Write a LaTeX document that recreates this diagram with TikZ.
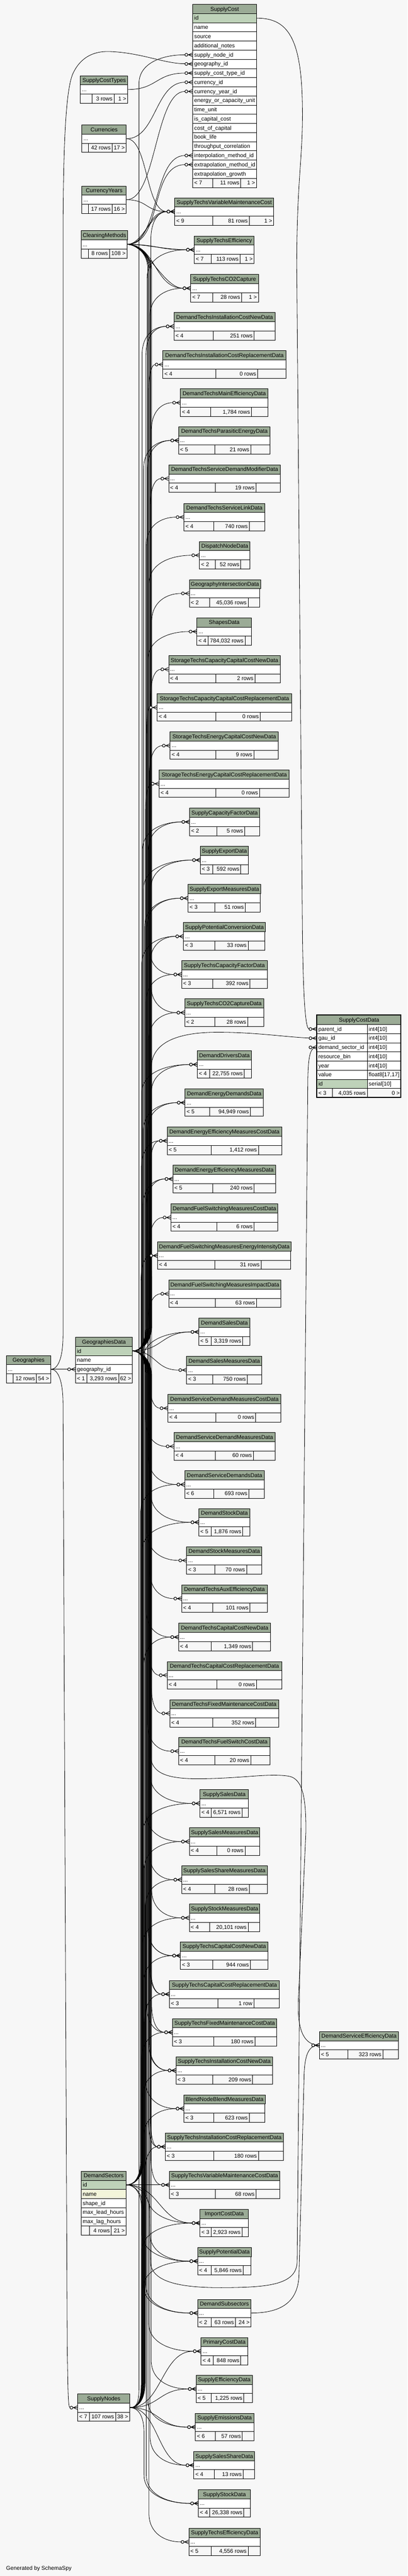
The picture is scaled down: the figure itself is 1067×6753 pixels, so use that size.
\documentclass[tikz,border=0pt]{standalone}
\usepackage{fontspec}
\setmainfont{Liberation Sans}
\usetikzlibrary{calc}
\definecolor{hdrc}{HTML}{9BAB96}
\definecolor{idc}{HTML}{BED2B9}
\definecolor{namec}{HTML}{F3F5DA}
\definecolor{bgc}{HTML}{F7F7F7}
\definecolor{cellbg}{HTML}{F7F7F7}
\newcommand\erfont{\fontsize{14.6}{17}\selectfont}
\tikzset{
 ercell/.style={draw=black,line width=1.3pt,minimum height=24pt,inner xsep=4pt,inner ysep=0pt,
   text height=12pt,text depth=2pt,font=\erfont,anchor=north west},
 fkl/.style={draw=black,line width=1.1pt},
}
\newcommand\erC[6][hdrc]{\pgfmathsetlengthmacro\erMW{#5}%
 \node[ercell,fill=#1,minimum width=\erMW] (#2) at (#3,#4) {#6};}
\newcommand\erL[6][white]{\pgfmathsetlengthmacro\erMW{#5}\pgfmathsetlengthmacro\erTW{#5-8}%
 \node[ercell,fill=#1,minimum width=\erMW,text width=\erTW,align=flush left] (#2) at (#3,#4) {\mbox{#6}};}
\newcommand\erR[6][cellbg]{\pgfmathsetlengthmacro\erMW{#5}\pgfmathsetlengthmacro\erTW{#5-8}%
 \node[ercell,fill=#1,minimum width=\erMW,text width=\erTW,align=flush right] (#2) at (#3,#4) {\mbox{#6}};}
\newcommand\erT[8]{%
 \pgfmathsetmacro\erW{#3-#2}%
 \erC{#1}{#2}{#4}{\erW}{#5}%
 \erL{#1d}{#2}{#4+24}{\erW}{...}%
 \def\erN{#1}\def\erXL{#2}\def\erXR{#3}\def\erY{#4}\def\erCA{#6}\def\erCB{#7}%
 \erF#8}
\newcommand\erF[3]{%
 \pgfmathsetmacro\erWa{\erCA-\erXL}\pgfmathsetmacro\erWb{\erCB-\erCA}\pgfmathsetmacro\erWc{\erXR-\erCB}%
 \erL[cellbg]{\erN fa}{\erXL}{\erY+48}{\erWa}{#1}%
 \erR{\erN fb}{\erCA}{\erY+48}{\erWb}{#2}%
 \erR{\erN fc}{\erCB}{\erY+48}{\erWc}{#3}}
\newcommand\fkend[1]{%
 \draw[fkl] let \p1=(#1) in (\x1-11pt,\y1) -- (\x1,\y1+5pt) (\x1-11pt,\y1) -- (\x1,\y1-5pt) (\x1-11pt,\y1) -- (\p1);
 \filldraw[fkl,line width=1.4pt,fill=white] let \p1=(#1) in (\x1-16pt,\y1) circle[radius=3.8pt];}
\newcommand\fk[3]{%
 \draw[fkl] let \p1=(#2), \p2=(#3), \p3=(#1,0), \n1={ifthenelse(\y2>\y1,1,-1)}, \n2={\x2-\x3-20pt} in
  (\p1) .. controls (\x1+22pt,\y1) and (\x3,{\y1+22pt*(\n1)}) .. (\x3,{\y1+65pt*(\n1)})
  -- (\x3,{\y2-75pt*(\n1)}) .. controls (\x3,{\y2-22pt*(\n1)}) and (\x2-20pt-0.5*\n2,\y2) .. (\x2-20pt,\y2) -- (\p2);
 \fkend{#3}}
\newcommand\fks[3][0.45]{%
 \draw[fkl] let \p1=(#2), \p2=(#3), \n2={max(40,#1*(\x2-\x1))} in
  (\p1) .. controls (\x1+\n2,\y1) and (\x2-20pt-\n2,\y2) .. (\x2-20pt,\y2) -- (\p2);
 \fkend{#3}}
\newcommand\gdk[2]{\pgfmathtruncatemacro\fkB{381+mod(#1*7,17)}\fk{\fkB}{gd1.east}{#2}}
\newcommand\snk[2]{\pgfmathtruncatemacro\fkB{370+mod(#1*3,11)}\fk{\fkB}{snd.east}{#2}}
\newcommand\dsk[2]{\pgfmathtruncatemacro\fkB{368+mod(#1*4,9)}\fk{\fkB}{ds1.east}{#2}}
\newcommand\cmk[2]{\pgfmathtruncatemacro\fkB{385+mod(#1*5,13)}\fk{\fkB}{cmd.east}{#2}}
\begin{document}
\begin{tikzpicture}[x=1pt,y=-1pt]
\fill[bgc] (0,0) rectangle (1067,6753);
\useasboundingbox (0,0) rectangle (1067,6753);
% ---------- SupplyCost
\erC{sc0}{504}{11}{167}{SupplyCost}
\erL[idc]{sc1}{504}{35}{167}{id}
\erL{sc2}{504}{59}{167}{name}
\erL{sc3}{504}{83}{167}{source}
\erL{sc4}{504}{107}{167}{additional\_notes}
\erL{sc5}{504}{131}{167}{supply\_node\_id}
\erL{sc6}{504}{155}{167}{geography\_id}
\erL{sc7}{504}{179}{167}{supply\_cost\_type\_id}
\erL{sc8}{504}{203}{167}{currency\_id}
\erL{sc9}{504}{227}{167}{currency\_year\_id}
\erL{sc10}{504}{251}{167}{energy\_or\_capacity\_unit}
\erL{sc11}{504}{275}{167}{time\_unit}
\erL{sc12}{504}{299}{167}{is\_capital\_cost}
\erL{sc13}{504}{323}{167}{cost\_of\_capital}
\erL{sc14}{504}{347}{167}{book\_life}
\erL{sc15}{504}{371}{167}{throughput\_correlation}
\erL{sc16}{504}{395}{167}{interpolation\_method\_id}
\erL{sc17}{504}{419}{167}{extrapolation\_method\_id}
\erL{sc18}{504}{443}{167}{extrapolation\_growth}
\erL[cellbg]{scfa}{504}{467}{52}{< 7}
\erR{scfb}{556}{467}{74}{11 rows}
\erR{scfc}{630}{467}{41}{1 >}
% ---------- left tables
\erT{sct}{210}{334}{198}{SupplyCostTypes}{240}{298}{{}{3 rows}{1 >}}
\erT{cur}{214}{330}{327}{Currencies}{231}{293}{{}{42 rows}{17 >}}
\erT{cy}{214}{330}{487}{CurrencyYears}{231}{293}{{}{17 rows}{16 >}}
\erT{cm}{212}{332}{604}{CleaningMethods}{231}{286}{{}{8 rows}{108 >}}
\erT{geo}{16}{132}{3553}{Geographies}{34}{95}{{}{12 rows}{54 >}}
\erT{sn}{203}{339}{6275}{SupplyNodes}{233}{302}{{< 7}{107 rows}{38 >}}
% GeographiesData
\erC{gd0}{197}{3505}{149}{GeographiesData}
\erL[idc]{gd1}{197}{3529}{149}{id}
\erL{gd2}{197}{3553}{149}{name}
\erL{gd3}{197}{3577}{149}{geography\_id}
\erL[cellbg]{gdfa}{197}{3601}{30}{< 1}
\erR{gdfb}{227}{3601}{83}{3,293 rows}
\erR{gdfc}{310}{3601}{36}{62 >}
% DemandSectors
\erC{ds0}{212}{5691}{118}{DemandSectors}
\erL[idc]{ds1}{212}{5715}{118}{id}
\erL[namec]{ds2}{212}{5739}{118}{name}
\erL{ds3}{212}{5763}{118}{shape\_id}
\erL{ds4}{212}{5787}{118}{max\_lead\_hours}
\erL{ds5}{212}{5811}{118}{max\_lag\_hours}
\erL[cellbg]{dsfa}{212}{5835}{22}{}
\erR{dsfb}{234}{5835}{57}{4 rows}
\erR{dsfc}{291}{5835}{39}{21 >}
% ---------- SupplyCostData
\erC{scd0}{829}{2661}{221}{SupplyCostData}
\erL{scd1}{829}{2685}{132}{parent\_id}\erL{scd1t}{961}{2685}{89}{int4[10]}
\erL{scd2}{829}{2709}{132}{gau\_id}\erL{scd2t}{961}{2709}{89}{int4[10]}
\erL{scd3}{829}{2733}{132}{demand\_sector\_id}\erL{scd3t}{961}{2733}{89}{int4[10]}
\erL{scd4}{829}{2757}{132}{resource\_bin}\erL{scd4t}{961}{2757}{89}{int4[10]}
\erL{scd5}{829}{2781}{132}{year}\erL{scd5t}{961}{2781}{89}{int4[10]}
\erL{scd6}{829}{2805}{132}{value}\erL{scd6t}{961}{2805}{89}{float8[17,17]}
\erL[idc]{scd7}{829}{2829}{132}{id}\erL{scd7t}{961}{2829}{89}{serial[10]}
\erL[cellbg]{scdfa}{829}{2853}{41}{< 3}
\erR{scdfb}{870}{2853}{91}{4,035 rows}
\erR{scdfc}{961}{2853}{89}{0 >}
\draw[line width=2.6pt] (829,2661) rectangle (1050,2877);
% ---------- right column tables
\erT{t02}{457}{716}{518}{SupplyTechsVariableMaintenanceCost}{556}{652}{{< 9}{81 rows}{1 >}}
\erT{t03}{508}{665}{618}{SupplyTechsEfficiency}{552}{628}{{< 7}{113 rows}{1 >}}
\erT{t04}{499}{676}{719}{SupplyTechsCO2Capture}{556}{632}{{< 7}{28 rows}{1 >}}
\erT{t05}{455}{720}{819}{DemandTechsInstallationCostNewData}{558}{665}{{< 4}{251 rows}{}}
\erT{t06}{426}{748}{919}{DemandTechsInstallationCostReplacementData}{565}{674}{{< 4}{0 rows}{}}
\erT{t07}{472}{701}{1019}{DemandTechsMainEfficiencyData}{551}{658}{{< 4}{1,784 rows}{}}
\erT{t08}{467}{707}{1118}{DemandTechsParasiticEnergyData}{562}{656}{{< 5}{21 rows}{}}
\erT{t09}{441}{734}{1218}{DemandTechsServiceDemandModifierData}{563}{670}{{< 4}{19 rows}{}}
\erT{t10}{481}{693}{1319}{DemandTechsServiceLinkData}{559}{652}{{< 4}{740 rows}{}}
\erT{t11}{522}{654}{1419}{DispatchNodeData}{563}{630}{{< 2}{52 rows}{}}
\erT{t12}{495}{680}{1519}{GeographyIntersectionData}{548}{649}{{< 2}{45,036 rows}{}}
\erT{t13}{515}{658}{1619}{ShapesData}{544}{641}{{< 4}{784,032 rows}{}}
\erT{t14}{441}{733}{1718}{StorageTechsCapacityCapitalCostNewData}{565}{667}{{< 4}{2 rows}{}}
\erT{t15}{411}{763}{1818}{StorageTechsCapacityCapitalCostReplacementData}{565}{681}{{< 4}{0 rows}{}}
\erT{t16}{445}{728}{1918}{StorageTechsEnergyCapitalCostNewData}{565}{664}{{< 4}{9 rows}{}}
\erT{t17}{416}{757}{2018}{StorageTechsEnergyCapitalCostReplacementData}{565}{679}{{< 4}{0 rows}{}}
\erT{t18}{496}{679}{2118}{SupplyCapacityFactorData}{567}{640}{{< 2}{5 rows}{}}
\erT{t19}{524}{649}{2218}{SupplyExportData}{557}{630}{{< 3}{592 rows}{}}
\erT{t20}{492}{681}{2318}{SupplyExportMeasuresData}{562}{642}{{< 3}{51 rows}{}}
\erT{t21}{480}{693}{2418}{SupplyPotentialConversionData}{562}{649}{{< 3}{33 rows}{}}
\erT{t22}{475}{699}{2518}{SupplyTechsCapacityFactorData}{557}{654}{{< 3}{392 rows}{}}
\erT{t23}{483}{690}{2618}{SupplyTechsCO2CaptureData}{562}{648}{{< 2}{28 rows}{}}
\erT{t24}{516}{658}{2754}{DemandDriversData}{548}{639}{{< 4}{22,755 rows}{}}
\erT{t25}{484}{689}{2854}{DemandEnergyDemandsData}{548}{655}{{< 5}{94,949 rows}{}}
\erT{t26}{437}{737}{2954}{DemandEnergyEfficiencyMeasuresCostData}{552}{676}{{< 5}{1,412 rows}{}}
\erT{t27}{452}{721}{3054}{DemandEnergyEfficiencyMeasuresData}{557}{665}{{< 5}{240 rows}{}}
\erT{t28}{447}{727}{3155}{DemandFuelSwitchingMeasuresCostData}{567}{665}{{< 4}{6 rows}{}}
\erT{t29}{412}{761}{3255}{DemandFuelSwitchingMeasuresEnergyIntensityData}{562}{683}{{< 4}{31 rows}{}}
\erT{t30}{441}{735}{3355}{DemandFuelSwitchingMeasuresImpactData}{563}{671}{{< 4}{63 rows}{}}
\erT{t31}{520}{654}{3455}{DemandSalesData}{552}{635}{{< 5}{3,319 rows}{}}
\erT{t32}{488}{685}{3555}{DemandSalesMeasuresData}{557}{647}{{< 3}{750 rows}{}}
\erT{t33}{439}{735}{3655}{DemandServiceDemandMeasuresCostData}{565}{669}{{< 4}{0 rows}{}}
\erT{t34}{455}{720}{3755}{DemandServiceDemandMeasuresData}{563}{663}{{< 4}{60 rows}{}}
\erT{t35}{483}{692}{3855}{DemandServiceDemandsData}{559}{651}{{< 6}{693 rows}{}}
\erT{t36}{520}{654}{3954}{DemandStockData}{552}{635}{{< 5}{1,876 rows}{}}
\erT{t37}{488}{685}{4054}{DemandStockMeasuresData}{562}{645}{{< 3}{70 rows}{}}
\erT{t38}{475}{699}{4154}{DemandTechsAuxEfficiencyData}{557}{654}{{< 4}{101 rows}{}}
\erT{t39}{467}{708}{4255}{DemandTechsCapitalCostNewData}{552}{661}{{< 4}{1,349 rows}{}}
\erT{t40}{437}{737}{4355}{DemandTechsCapitalCostReplacementData}{567}{671}{{< 4}{0 rows}{}}
\erT{t41}{444}{729}{4455}{DemandTechsFixedMaintenanceCostData}{557}{669}{{< 4}{352 rows}{}}
\erT{t42}{467}{707}{4554}{DemandTechsFuelSwitchCostData}{562}{656}{{< 4}{20 rows}{}}
\erT{t43}{523}{650}{4691}{SupplySalesData}{552}{633}{{< 4}{6,571 rows}{}}
\erT{t44}{495}{680}{4791}{SupplySalesMeasuresData}{567}{641}{{< 4}{0 rows}{}}
\erT{t45}{475}{699}{4891}{SupplySalesShareMeasuresData}{562}{652}{{< 4}{28 rows}{}}
\erT{t46}{495}{680}{4991}{SupplyStockMeasuresData}{548}{649}{{< 4}{20,101 rows}{}}
\erT{t47}{472}{701}{5090}{SupplyTechsCapitalCostNewData}{557}{655}{{< 3}{944 rows}{}}
\erT{t48}{443}{731}{5191}{SupplyTechsCapitalCostReplacementData}{570}{664}{{< 3}{1 row}{}}
\erT{t49}{451}{724}{5291}{SupplyTechsFixedMaintenanceCostData}{559}{667}{{< 3}{180 rows}{}}
\erT{t50}{460}{713}{5391}{SupplyTechsInstallationCostNewData}{557}{661}{{< 3}{209 rows}{}}
\erT{t51}{481}{693}{5491}{BlendNodeBlendMeasuresData}{559}{652}{{< 3}{623 rows}{}}
\erT{t52}{432}{742}{5591}{SupplyTechsInstallationCostReplacementData}{559}{676}{{< 3}{180 rows}{}}
\erT{t53}{443}{732}{5691}{SupplyTechsVariableMaintenanceCostData}{563}{670}{{< 3}{68 rows}{}}
\erT{t54}{523}{650}{5791}{ImportCostData}{552}{633}{{< 3}{2,923 rows}{}}
\erT{t55}{517}{657}{5891}{SupplyPotentialData}{552}{636}{{< 4}{5,846 rows}{}}
\erT{t56}{517}{657}{6027}{DemandSubsectors}{552}{616}{{< 2}{63 rows}{24 >}}
\erT{t57}{526}{648}{6127}{PrimaryCostData}{558}{630}{{< 4}{848 rows}{}}
\erT{t58}{513}{660}{6226}{SupplyEfficiencyData}{552}{638}{{< 5}{1,225 rows}{}}
\erT{t59}{511}{664}{6326}{SupplyEmissionsData}{563}{634}{{< 6}{57 rows}{}}
\erT{t60}{507}{666}{6426}{SupplySalesShareData}{561}{636}{{< 4}{13 rows}{}}
\erT{t61}{519}{655}{6526}{SupplyStockData}{548}{638}{{< 4}{26,338 rows}{}}
\erT{t62}{494}{681}{6627}{SupplyTechsEfficiencyData}{552}{649}{{< 5}{4,556 rows}{}}
\erT{dse}{836}{1043}{5325}{DemandServiceEfficiencyData}{910}{1002}{{< 5}{323 rows}{}}
% ---------- connectors: left parents
\fks{sctd.east}{sc7.west}
\fks{curd.east}{sc8.west}
\fks{curd.east}{t02d.west}
\fks{cyd.east}{sc9.west}
\fks{cyd.east}{t02d.west}
\fks[0.5]{cmd.east}{sc16.west}
\fks[0.55]{cmd.east}{sc17.west}
\fks[0.45]{cmd.east}{t02d.west}
\fks[0.3]{cmd.east}{t02d.west}
\fks[0.45]{cmd.east}{t03d.west}
\fks[0.3]{cmd.east}{t03d.west}
\fks[0.45]{cmd.east}{t04d.west}
\fks[0.3]{cmd.east}{t04d.west}
\cmk{1}{t22d.west}
\cmk{2}{t23d.west}
\cmk{3}{t47d.west}
\cmk{4}{t48d.west}
\cmk{5}{t49d.west}
\cmk{6}{t50d.west}
\cmk{7}{t52d.west}
% Geographies
\draw[fkl] (geod.east) -- (gd3.west); \fkend{gd3.west}
\draw[fkl] (geod.east) .. controls (152,3589) and (165,3560) .. (165,3500) -- (165,600)
  .. controls (166,380) and (172,240) .. (190,195) .. controls (210,150) and (245,134) .. (286,135)
  .. controls (370,138) and (430,167) .. (484,167) -- (sc6.west);
\fkend{sc6.west}
\draw[fkl] (geod.east) .. controls (152,3589) and (165,3620) .. (165,3680) -- (176,6150)
  .. controls (178,6260) and (178,6311) .. (183,6311) -- (snd.west);
\fkend{snd.west}
% SupplyCost.id -> SupplyCostData.parent_id
\draw[fkl] (sc1.east) .. controls (760,47) and (792,110) .. (792,300) .. controls (792,420) and (777,480) .. (777,700)
  -- (792,2450) .. controls (794,2620) and (800,2697) .. (809,2697) -- (scd1.west);
\fkend{scd1.west}
% GeographiesData -> SupplyCostData.gau_id
\draw[fkl] (gd1.east) .. controls (368,3541) and (396,3520) .. (396,3470) -- (396,2800)
  .. controls (396,2730) and (470,2706) .. (570,2706) .. controls (680,2706) and (760,2721) .. (scd2.west);
\fkend{scd2.west}
% DemandSectors -> SupplyCostData.demand_sector_id
\draw[fkl] (ds1.east) .. controls (355,5727) and (392,5745) .. (392,5800) -- (394,5930)
  .. controls (396,5985) and (480,5998) .. (590,5997) .. controls (700,5996) and (776,5990) .. (778,5930)
  -- (806,2830) .. controls (807,2770) and (812,2745) .. (scd3.west);
\fkend{scd3.west}
% GeographiesData -> DemandServiceEfficiencyData
\draw[fkl] (gd1.east) .. controls (368,3541) and (394,3560) .. (394,3610) -- (394,4600)
  .. controls (395,4650) and (440,4663) .. (520,4663) .. controls (640,4662) and (700,4648) .. (755,4656)
  .. controls (795,4662) and (801,4720) .. (801,4800) -- (781,5250) .. controls (779,5330) and (800,5361) .. (dsed.west);
\fkend{dsed.west}
% DemandSubsectors -> DemandServiceEfficiencyData
\draw[fkl] (t56d.east) .. controls (730,6063) and (782,6040) .. (783,5960) -- (796,5450)
  .. controls (797,5390) and (806,5361) .. (dsed.west);
\fkend{dsed.west}
% SupplyNodes
\fk{364}{snd.east}{sc5.west}
\snk{1}{t18d.west}
\snk{2}{t19d.west}
\snk{3}{t20d.west}
\snk{4}{t21d.west}
\snk{5}{t43d.west}
\snk{6}{t44d.west}
\snk{7}{t45d.west}
\snk{8}{t46d.west}
\snk{9}{t47d.west}
\snk{10}{t48d.west}
\snk{11}{t49d.west}
\snk{12}{t50d.west}
\snk{13}{t51d.west}
\snk{14}{t52d.west}
\snk{15}{t54d.west}
\snk{16}{t55d.west}
\snk{17}{t61d.west}
\fks{snd.east}{t57d.west}
\fks{snd.east}{t58d.west}
\fks{snd.east}{t59d.west}
\fks{snd.east}{t60d.west}
% DemandSectors
\fks{ds1.east}{t53d.west}
\fks{ds1.east}{t54d.west}
\dsk{1}{t05d.west}
\dsk{2}{t08d.west}
\dsk{3}{t24d.west}
\dsk{4}{t25d.west}
\dsk{5}{t26d.west}
\dsk{6}{t27d.west}
\dsk{7}{t29d.west}
\dsk{8}{t31d.west}
\dsk{9}{t35d.west}
\dsk{10}{t36d.west}
\dsk{11}{t39d.west}
\dsk{12}{t55d.west}
\dsk{13}{t56d.west}
% GeographiesData
\gdk{2}{t02d.west}
\gdk{3}{t03d.west}
\gdk{4}{t04d.west}
\gdk{5}{t05d.west}
\gdk{6}{t06d.west}
\gdk{7}{t07d.west}
\gdk{8}{t08d.west}
\gdk{9}{t09d.west}
\gdk{10}{t10d.west}
\gdk{11}{t11d.west}
\gdk{12}{t12d.west}
\gdk{13}{t13d.west}
\gdk{14}{t14d.west}
\gdk{15}{t15d.west}
\gdk{16}{t16d.west}
\gdk{17}{t17d.west}
\gdk{18}{t18d.west}
\gdk{19}{t19d.west}
\gdk{20}{t20d.west}
\gdk{21}{t21d.west}
\gdk{22}{t22d.west}
\gdk{23}{t23d.west}
\gdk{24}{t24d.west}
\gdk{25}{t25d.west}
\gdk{26}{t26d.west}
\gdk{27}{t27d.west}
\gdk{28}{t28d.west}
\gdk{29}{t29d.west}
\gdk{30}{t30d.west}
\fks{gd1.east}{t31d.west}
\fks{gd1.east}{t32d.west}
\gdk{33}{t33d.west}
\gdk{34}{t34d.west}
\gdk{35}{t35d.west}
\gdk{36}{t36d.west}
\gdk{37}{t37d.west}
\gdk{38}{t38d.west}
\gdk{39}{t39d.west}
\gdk{40}{t40d.west}
\gdk{41}{t41d.west}
\gdk{42}{t42d.west}
\gdk{43}{t43d.west}
\gdk{44}{t44d.west}
\gdk{45}{t45d.west}
\gdk{46}{t46d.west}
\gdk{47}{t47d.west}
\gdk{48}{t48d.west}
\gdk{49}{t49d.west}
\gdk{50}{t50d.west}
\gdk{51}{t51d.west}
\gdk{52}{t52d.west}
\gdk{53}{t53d.west}
\gdk{54}{t54d.west}
\gdk{55}{t55d.west}
\gdk{56}{t56d.west}
\gdk{57}{t57d.west}
\gdk{58}{t58d.west}
\gdk{59}{t59d.west}
\gdk{60}{t60d.west}
\gdk{61}{t61d.west}
\gdk{62}{t62d.west}
% footer text
\node[font=\erfont,anchor=west,inner sep=0pt] (gen) at (16,6734) {Generated by SchemaSpy};
\end{tikzpicture}
\end{document}
